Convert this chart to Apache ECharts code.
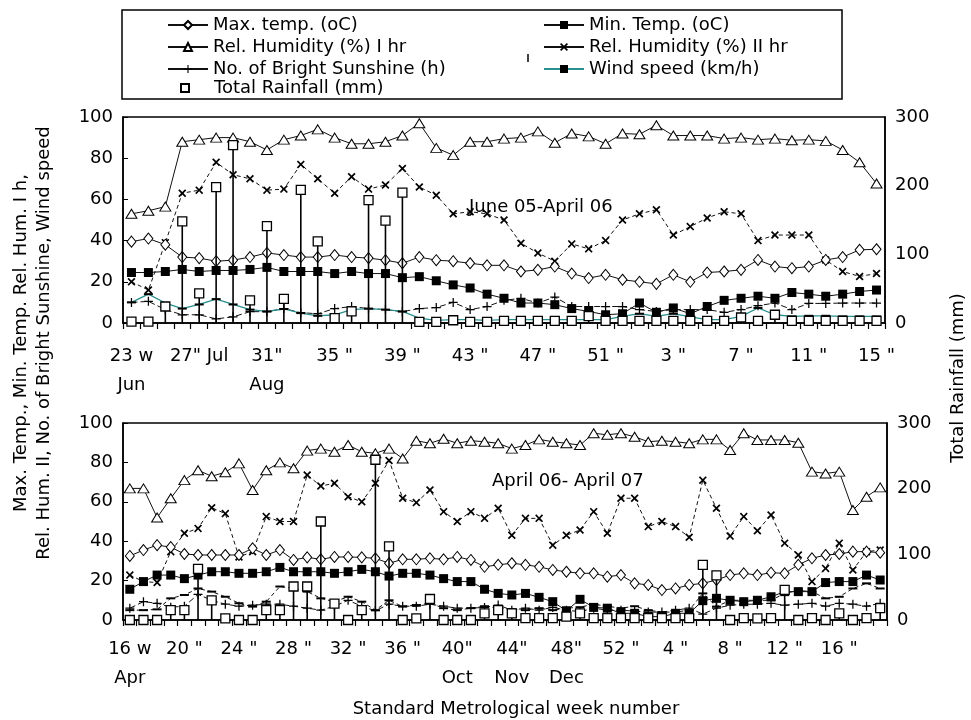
<!DOCTYPE html>
<html><head><meta charset="utf-8">
<script src="https://cdn.jsdelivr.net/npm/echarts/dist/echarts.min.js"></script>
<style>html,body{margin:0;padding:0;background:#fff}#c{width:971px;height:720px}</style>
</head><body><div id="c"></div>
<script>
// ---------- Top panel: June 05 - April 06 (standard weeks 23..52, 1..15)
const topWeeks = [23,24,25,26,27,28,29,30,31,32,33,34,35,36,37,38,39,40,41,42,43,44,45,46,47,48,49,50,51,52,1,2,3,4,5,6,7,8,9,10,11,12,13,14,15];
const topTickLabels = ['23 w\nJun','27" Jul','31"\nAug','35 "','39 "','43 "','47 "','51 "','3 "','7 "','11 "','15 "'];
const topMaxT = [39.5,41,38,32,31.5,30,30.5,32,34,33,32,32,33,32,31.5,30.5,29,32,30.5,30,29,28,
                 28,25,25.8,27.4,24,21.8,23.4,21,20,19,23.4,20,24.5,25,25.8,30.6,27.4,26.6,27.4,30.6,32,35.5,35.8];
const topMinT = [24.5,24.5,25,26,25,25.5,25.5,26,27,25,25,25,24,25,24,24,22,22.5,20.5,18.5,17,14,
                 12,9.7,9.7,8.9,7,5.6,4,4.5,9.7,5.2,7.3,4.5,8,11,12,13,12,14.8,14,13,14,15.3,16];
const topRH1 = [53,54.5,56.5,88,89,90,90,88,84,89,91,94,90,87,87,88,91,97,85,81.5,88,88,
                89.5,90,93,87.5,92,90.6,87,92,91.6,96,91,91,91,89.5,90,89,89.5,88.7,89,88.4,84,78,67.7];
const topRH2 = [20,16,39,63,64.5,78,72,70,64.5,65,77,70,63,71,65,67,75,66,62,53,54,53,
                50,38.7,34,30,38.4,36,40,50,53,55,42.7,46.8,51,54,53,40,42.7,42.7,42.7,30.6,25,22.6,24];
const topSun = [10,10.5,6.5,4,4,2,3,5.5,5.5,7,5,4.5,7,8,7,6.5,5.5,7,7.5,10,6.5,8,
                11,12,9.7,12.6,8,8,8,8,6.5,5.6,6.5,6.5,6.5,5.2,6.5,8.4,9.7,6.5,9.5,9.5,9.7,9.7,9.7];
const topWind = [10,14,9.7,7,9,11.6,9,6.5,5.6,6.8,4.8,3.5,4,6.5,7,6.5,5.6,2.4,1.3,1.6,1.6,1.3,
                 1.6,1.6,1.6,1.6,1.6,1.6,1.6,3.2,4.5,3.2,4.5,3,1.6,1.6,3.2,7.3,4,3.2,3.5,3.5,3.2,3.2,3.2];
const topRain = [2,2,24,148,43,198,259,33,141,35,194,119,7,17,179,149,190,1.5,1.5,4,1.5,1.5,
                 3,3,3,3,3,10,3,3,3,3,3,3,3,3,8,3,12,3,3,3,3,3,3];

// ---------- Bottom panel: April 06 - April 07 (standard weeks 16..52, 1..19)
const botWeeks = [16,17,18,19,20,21,22,23,24,25,26,27,28,29,30,31,32,33,34,35,36,37,38,39,40,41,42,43,44,45,46,47,48,49,50,51,52,1,2,3,4,5,6,7,8,9,10,11,12,13,14,15,16,17,18,19];
const botTickLabels = ['16 w\nApr','20 "','24 "','28 "','32 "','36 "','40"\nOct','44"\nNov','48"\nDec','52 "','4 "','8 "','12 "','16 "'];
const botMaxT = [32.5,35.5,38,37,33.5,33,33,33,33,36.4,33,35.5,30.5,31.8,30.8,32,32,31.8,31.3,28.8,30.8,30.8,31.3,30.8,32,30.5,27,28,
                 28.8,28,27,25.4,24.5,23.7,23.7,22,22.8,18.6,17.8,15.2,16,17.8,18.6,20.3,22.8,23.7,22.8,24,23.7,28,31.3,33,33.5,34.7,34.7,34.2];
const botMinT = [15.6,19.5,22.8,22.8,21,22.8,24.5,24.5,23.7,23.7,24.5,26.7,24.5,24.5,24.5,23.7,24.5,25.7,24.5,22.3,23.7,23.7,22.8,21,19.5,19.5,15.6,13.5,
                 12.7,13.5,11.5,9.3,4.7,10.5,6.4,6,3.4,3.4,1.7,1.7,3.4,3.4,9.8,11,10,9.3,10,11.8,14.4,14.4,14.4,19,19.5,19.5,22.8,20.3];
const botRH1 = [66.8,66.8,52,61.8,71,76,73,75,79.5,66,76,80,77,86,87,85.4,88.8,85.4,84.6,87,82,91,89.7,92,89.7,91,90.5,89.7,
                87,88.8,91.7,90.5,89.7,88.8,94.8,94,94.8,93,90.5,91,90.5,89.7,91.7,91.7,86.3,94.8,91.4,91.4,91.4,90,75.3,74.4,75.3,55.8,62.6,67.3];
const botRH2 = [22.8,19.5,19,34.7,44,46.5,57,54,32,34.7,52.5,50,50,73.6,68,69.4,62.6,60,69.4,81,61.8,59.6,66,55,50,55,51.6,56.7,
                43,51.6,51.6,38,43,45.7,55,44,61.8,61.8,47.4,50,47.4,42,71,56.7,42.6,52.5,45.3,53.3,39,33,19.5,26.2,39,25.4,34.7,35.5];
const botSun = [6,9.3,8.5,6.5,7,13,10,8,7,7.5,8,8,7,6,5,7,10,7,4.7,8,7,7,8,7,
                6,6,6.4,7.6,5,6,5,6.4,5,4.2,6,5,5,4.5,4,4,5,6,3,6,7.5,8,8,8.5,7.5,8,8.5,7,8.5,8,7,8.5];
const botWind = [5,5,5.4,11,12.7,16,14.4,11.8,8.5,6.8,9.3,17,16,14.4,11,9.3,11.8,9.3,5,10,6.8,7.6,8.5,6,
                 5,6,7,6,5.5,5,6,5,6,6.5,8,7,6,7,5,4,4,5,13.5,6.8,10,10,10,10,13.5,15,14.4,11,11.8,16,18.6,16];
const botRain = [0,0,0,15,15,78,30,2.5,0,0,15,15,51,51,150,25,0,15,244,112,0,2.5,32,0,0,0,10,15,
                 10,3,3,3,5,10,3,3,3,3,3,3,3,3,84,68,0,3,2.5,3,46,0,3,0,10,0,3,18];

// ---------- names
const N_MAX = 'Max. temp. (oC)', N_MIN = 'Min. Temp. (oC)', N_RH1 = 'Rel. Humidity (%) I hr',
      N_RH2 = 'Rel. Humidity (%) II hr', N_SUN = 'No. of Bright Sunshine (h)', N_WIND = 'Wind speed (km/h)',
      N_RAIN = 'Total Rainfall (mm)';

const FONT = 'DejaVu Sans';
const SYM_X = 'path://M0,1.5L1.5,0L5,3.5L8.5,0L10,1.5L6.5,5L10,8.5L8.5,10L5,6.5L1.5,10L0,8.5L3.5,5Z';
const SYM_PLUS = 'path://M4.3,0H5.7V4.3H10V5.7H5.7V10H4.3V5.7H0V4.3H4.3Z';
const SYM_DASH = 'path://M0,0H10V2.2H0Z';

function lineSeries(name, data, gi, opt) {
  return Object.assign({
    type: 'line', name: name, data: data, xAxisIndex: gi, yAxisIndex: gi * 2,
    showSymbol: true, showAllSymbol: true, animation: false, z: 3,
    lineStyle: { color: '#111', width: 1 },
  }, opt);
}

function panelSeries(gi, d) {
  return [
    lineSeries(N_RH1, d.rh1, gi, { symbol: 'triangle', symbolSize: [11, 9],
      itemStyle: { color: '#fff', borderColor: '#000', borderWidth: 1 } }),
    lineSeries(N_RH2, d.rh2, gi, { symbol: SYM_X, symbolSize: 8,
      lineStyle: { color: '#111', width: 1, type: [4, 3] }, itemStyle: { color: '#000' } }),
    lineSeries(N_MAX, d.maxT, gi, { symbol: 'diamond', symbolSize: [9, 11],
      itemStyle: { color: '#fff', borderColor: '#000', borderWidth: 1 } }),
    lineSeries(N_MIN, d.minT, gi, { symbol: 'rect', symbolSize: 9, z: 4,
      itemStyle: { color: '#000' } }),
    lineSeries(N_SUN, d.sun, gi, { symbol: SYM_PLUS, symbolSize: 9,
      lineStyle: { color: '#111', width: 1, type: [6, 3] }, itemStyle: { color: '#000' } }),
    lineSeries(N_WIND, d.wind, gi, { symbol: SYM_DASH, symbolSize: [9, 2],
      lineStyle: gi === 0 ? { color: '#2a8f8f', width: 1.3 } : { color: '#111', width: 1, type: [4, 3] },
      itemStyle: { color: '#000' } }),
    { type: 'bar', name: 'stem' + gi, data: d.rain, xAxisIndex: gi, yAxisIndex: gi * 2 + 1,
      barWidth: 1.6, itemStyle: { color: '#000' }, z: 5, animation: false, silent: true },
    { type: 'scatter', name: N_RAIN, data: d.rain.map((v, i) => [i, v]), xAxisIndex: gi, yAxisIndex: gi * 2 + 1,
      symbol: 'rect', symbolSize: 9, z: 6, animation: false,
      itemStyle: { color: '#fff', borderColor: '#000', borderWidth: 1.3, opacity: 1 } },
  ];
}

function xAxisFor(gi, weeks, labels, margin) {
  return {
    type: 'category', gridIndex: gi, data: weeks.map(String), boundaryGap: true,
    axisLine: { show: true, lineStyle: { color: '#000', width: 1.5 } },
    axisTick: { show: true, interval: 0, length: 6, inside: false, lineStyle: { color: '#000', width: 1.2 } },
    axisLabel: { interval: 0, color: '#000', fontFamily: FONT, fontSize: 18, margin: margin, lineHeight: 29,
      formatter: (v, idx) => (idx % 4 === 0 ? labels[idx / 4] : '') },
    splitLine: { show: false },
  };
}
function yLeft(gi) {
  return { type: 'value', gridIndex: gi, position: 'left', min: 0, max: 100, interval: 20,
    axisLine: { show: true, lineStyle: { color: '#000', width: 1.5 } },
    axisTick: { show: true, inside: true, length: 5, lineStyle: { color: '#000' } },
    axisLabel: { color: '#000', fontFamily: FONT, fontSize: 18, margin: 10 },
    splitLine: { show: false } };
}
function yRight(gi) {
  return { type: 'value', gridIndex: gi, position: 'right', min: 0, max: 300, interval: 100,
    axisLine: { show: true, lineStyle: { color: '#000', width: 1.5 } },
    axisTick: { show: false },
    axisLabel: { color: '#000', fontFamily: FONT, fontSize: 18, margin: 10 },
    splitLine: { show: false } };
}

function legendItem(name, left, top, extra) {
  return Object.assign({
    data: [name], left: left, top: top, orient: 'vertical', padding: 0,
    itemWidth: 40, itemHeight: 10, itemGap: 0, selectedMode: false,
    textStyle: { fontFamily: FONT, fontSize: 18, color: '#000', lineHeight: 20 },
  }, extra || {});
}

const option = {
  animation: false,
  backgroundColor: '#fff',
  textStyle: { fontFamily: FONT },
  grid: [
    { left: 123, right: 86, top: 117, height: 206, show: true, borderColor: '#000', borderWidth: 1.5, outerBoundsMode: 'none', containLabel: false },
    { left: 123, right: 84, top: 423, height: 197, show: true, borderColor: '#000', borderWidth: 1.5, outerBoundsMode: 'none', containLabel: false },
  ],
  xAxis: [xAxisFor(0, topWeeks, topTickLabels, 19), xAxisFor(1, botWeeks, botTickLabels, 15)],
  yAxis: [yLeft(0), yRight(0), yLeft(1), yRight(1)],
  legend: [
    legendItem(N_MAX, 167, 15),
    legendItem(N_RH1, 167, 37),
    legendItem(N_SUN, 167, 59, { lineStyle: { type: 'solid' } }),
    legendItem(N_RAIN, 180, 78, { itemWidth: 8, itemHeight: 8,
      textStyle: { fontFamily: FONT, fontSize: 18, color: '#000', lineHeight: 20, padding: [0, 0, 0, 20] } }),
    legendItem(N_MIN, 543, 15),
    legendItem(N_RH2, 543, 37, { lineStyle: { type: 'solid' } }),
    legendItem(N_WIND, 543, 59),
  ],
  graphic: [
    { type: 'rect', shape: { x: 122, y: 10, width: 720, height: 89 }, style: { fill: 'none', stroke: '#000', lineWidth: 1.5 }, z: 100 },
    { type: 'line', shape: { x1: 528, y1: 54, x2: 528, y2: 62 }, style: { stroke: '#000', lineWidth: 1.5 } },
    { type: 'text', x: 21, y: 343, rotation: Math.PI / 2,
      style: { text: 'Max. Temp., Min. Temp. Rel. Hum. I h,', font: '18px "DejaVu Sans"', fill: '#000', align: 'center', verticalAlign: 'middle', textAlign: 'center', textVerticalAlign: 'middle' } },
    { type: 'text', x: 44, y: 343, rotation: Math.PI / 2,
      style: { text: 'Rel. Hum. II, No. of Bright Sunshine, Wind speed', font: '18px "DejaVu Sans"', fill: '#000', align: 'center', verticalAlign: 'middle', textAlign: 'center', textVerticalAlign: 'middle' } },
    { type: 'text', x: 958, y: 378, rotation: Math.PI / 2,
      style: { text: 'Total Rainfall (mm)', font: '18px "DejaVu Sans"', fill: '#000', align: 'center', verticalAlign: 'middle', textAlign: 'center', textVerticalAlign: 'middle' } },
    { type: 'text', x: 516, y: 709,
      style: { text: 'Standard Metrological week number', font: '18px "DejaVu Sans"', fill: '#000', align: 'center', verticalAlign: 'middle', textAlign: 'center', textVerticalAlign: 'middle' } },
    { type: 'text', x: 469, y: 207,
      style: { text: 'June 05-April 06', font: '18px "DejaVu Sans"', fill: '#000', align: 'left', verticalAlign: 'middle', textAlign: 'left', textVerticalAlign: 'middle' } },
    { type: 'text', x: 492, y: 481,
      style: { text: 'April 06- April 07', font: '18px "DejaVu Sans"', fill: '#000', align: 'left', verticalAlign: 'middle', textAlign: 'left', textVerticalAlign: 'middle' } },
  ],
  series: [].concat(
    panelSeries(0, { rh1: topRH1, rh2: topRH2, maxT: topMaxT, minT: topMinT, sun: topSun, wind: topWind, rain: topRain }),
    panelSeries(1, { rh1: botRH1, rh2: botRH2, maxT: botMaxT, minT: botMinT, sun: botSun, wind: botWind, rain: botRain })
  ),
};

const chart = echarts.init(document.getElementById('c'), null, { renderer: 'canvas' });
chart.setOption(option);
</script>
</body></html>
